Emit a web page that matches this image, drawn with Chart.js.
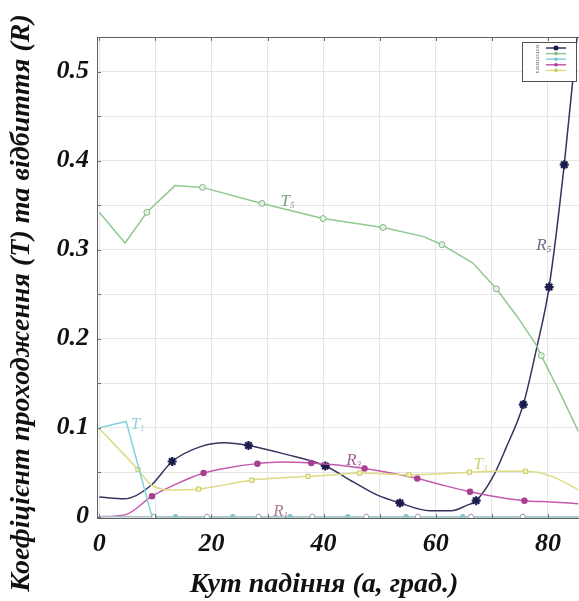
<!DOCTYPE html>
<html>
<head>
<meta charset="utf-8">
<script src="https://cdn.jsdelivr.net/npm/chart.js@4.4.1/dist/chart.umd.min.js"></script>
<style>
html,body{margin:0;padding:0;background:#fff;}
canvas{display:block;}
</style>
</head>
<body>
<canvas id="c" width="579" height="601"></canvas>
<script>
// ---- data ----
const t5X = [0, 4.6, 8.5, 13.5, 18.4, 29, 39.9, 50.6, 57.7, 61.1, 66.6, 70.8, 74.5, 77.9, 78.8, 82, 85.4];
const t5Y = [0.342, 0.3075, 0.342, 0.372, 0.370, 0.352, 0.335, 0.325, 0.315, 0.3056, 0.285, 0.256, 0.225, 0.193, 0.181, 0.141, 0.096];
const t5Marks = [0,0,1,0,1,1,1,1,0,1,0,1,0,0,1,0,0];

const r5X = [0, 4.5, 9.2, 13.0, 18.2, 22.3, 26.6, 33.3, 40.3, 45.3, 49.4, 53.6, 58.9, 62.8, 65.4, 67.2, 70.2, 72.5, 75.6, 78, 80.2, 82.9, 85.2];
const r5Y = [0.022, 0.020, 0.035, 0.062, 0.079, 0.083, 0.080, 0.070, 0.057, 0.039, 0.0247, 0.0154, 0.0067, 0.0067, 0.0124, 0.018, 0.045, 0.077, 0.126, 0.19, 0.258, 0.3955, 0.54];
const r5Marks = [0,0,0,1,0,0,1,0,1,0,0,1,0,0,0,1,0,0,1,0,1,1,0];

const r3X = [0, 4.6, 9.4, 13.5, 18.6, 23, 28.2, 32.2, 37.8, 42.5, 47.3, 52, 56.7, 61.5, 66.1, 71, 75.8, 80.5, 85.4];
const r3Y = [0.0, 0.002, 0.023, 0.036, 0.049, 0.055, 0.0596, 0.0614, 0.0603, 0.058, 0.054, 0.049, 0.043, 0.035, 0.028, 0.022, 0.018, 0.0165, 0.0146];
const r3Marks = [0,0,1,0,1,0,1,0,1,0,1,0,1,0,1,0,1,0,0];

const t3X = [0, 3.5, 6.9, 9.4, 13.5, 17.7, 22.5, 27.2, 32.2, 37.2, 41.8, 46.4, 51, 55.2, 60.5, 66, 70.7, 76, 80.8, 85.4];
const t3Y = [0.099, 0.076, 0.053, 0.035, 0.030, 0.031, 0.036, 0.041, 0.0435, 0.0453, 0.047, 0.049, 0.048, 0.047, 0.048, 0.050, 0.051, 0.051, 0.045, 0.030];
const t3Marks = [0,0,1,0,0,1,0,1,0,1,0,1,0,1,0,1,0,1,0,0];

const t1X = [0, 4.8, 9.4, 13.6, 23.8, 34, 44.3, 54.7, 64.8, 75.5, 85.4];
const t1Y = [0.100, 0.107, 0.0, 0.0, 0.0, 0.0, 0.0, 0.0, 0.0, 0.0, 0.0];
const t1Marks = [0,0,0,1,1,1,1,1,1,1,0];

const r1X = [0, 9.8, 19.2, 28.4, 38, 47.6, 56.8, 66.3, 75.5, 85.4];
const r1Y = [0.0, 0.0, 0.0, 0.0, 0.0, 0.0, 0.0, 0.0, 0.0, 0.0];
const r1Marks = [0,1,1,1,1,1,1,1,1,0];

const xTickLabels = ['0', '20', '40', '60', '80'];
const yTickLabels = ['0', '0.1', '0.2', '0.3', '0.4', '0.5'];

const curveNames = ['T', 'R', 'R', 'T', 'T', 'R'];
const curveSubs  = ['5', '5', '3', '3', '1', '1'];
const curveLabelX = [33.5, 79.2, 45.3, 67.9, 6.8, 32.3];
const curveLabelY = [0.356, 0.3065, 0.0651, 0.0606, 0.105, 0.008];

const legendNames = ['R5', 'T5', 'T1', 'R3', 'T3'];

const xTitle = 'Кут падіння (а, град.)';
const yTitle = 'Коефіцієнт проходження (T) та відбиття (R)';

// ---- helpers ----
const pts = (xs, ys) => xs.map((x, i) => ({x: x, y: ys[i]}));
const radii = (marks, r) => marks.map(m => m ? r : 0);

const C = {
  t5: '#8fc98f', r5: '#34345e', r3: '#c25aae', t3: '#dcdc86', t1: '#86d2dc', r1: '#a8c4c8'
};

const datasets = [
  {label:'R1', data: pts(r1X, r1Y), borderColor: C.r1, borderWidth: 1.5,
   pointRadius: radii(r1Marks, 2.5), pointStyle: 'circle', pointBackgroundColor: '#ffffff', pointBorderColor: '#9a9aa4', pointBorderWidth: 1, tension: 0},
  {label:'T1', data: pts(t1X, t1Y), borderColor: C.t1, borderWidth: 1.5,
   pointRadius: radii(t1Marks, 2), pointStyle: 'circle', pointBackgroundColor: '#78c4cc', pointBorderColor: '#78c4cc', tension: 0},
  {label:'T3', data: pts(t3X, t3Y), borderColor: C.t3, borderWidth: 1.5,
   pointRadius: radii(t3Marks, 3), pointStyle: 'rect', pointBackgroundColor: '#f4f4c0', pointBorderColor: '#c8c864', pointBorderWidth: 1, cubicInterpolationMode: 'monotone'},
  {label:'R3', data: pts(r3X, r3Y), borderColor: C.r3, borderWidth: 1.5,
   pointRadius: radii(r3Marks, 2.5), pointStyle: 'circle', pointBackgroundColor: '#a8408e', pointBorderColor: '#a8408e', cubicInterpolationMode: 'monotone'},
  {label:'T5', data: pts(t5X, t5Y), borderColor: C.t5, borderWidth: 1.5,
   pointRadius: radii(t5Marks, 3), pointStyle: 'circle', pointBackgroundColor: '#e2f2e2', pointBorderColor: '#86b886', pointBorderWidth: 1, tension: 0},
  {label:'R5', data: pts(r5X, r5Y), borderColor: C.r5, borderWidth: 1.5,
   pointRadius: radii(r5Marks, 4.5), pointStyle: 'star', pointBackgroundColor: '#1c1c4c', pointBorderColor: '#1c1c4c', pointBorderWidth: 2.2, cubicInterpolationMode: 'monotone'}
];

const decor = {
  id: 'decor',
  afterDraw(chart) {
    const ctx = chart.ctx, a = chart.chartArea, xs = chart.scales.x, ys = chart.scales.y;
    ctx.save();
    // top border
    ctx.strokeStyle = '#606060'; ctx.lineWidth = 1;
    ctx.beginPath(); ctx.moveTo(a.left, a.top + 0.5); ctx.lineTo(a.right, a.top + 0.5); ctx.stroke();
    // inner tick marks
    ctx.strokeStyle = '#707070';
    xs.ticks.forEach(t => {
      const px = Math.round(xs.getPixelForValue(t.value)) + 0.5;
      ctx.beginPath(); ctx.moveTo(px, a.bottom); ctx.lineTo(px, a.bottom - 4); ctx.stroke();
      ctx.beginPath(); ctx.moveTo(px, a.top); ctx.lineTo(px, a.top + 4); ctx.stroke();
    });
    ys.ticks.forEach(t => {
      const py = Math.round(ys.getPixelForValue(t.value)) + 0.5;
      ctx.beginPath(); ctx.moveTo(a.left, py); ctx.lineTo(a.left + 4, py); ctx.stroke();
    });
    // curve labels
    ctx.textBaseline = 'alphabetic';
    const lblColors = ['#7f9f7f', '#6a6a8c', '#a0609a', '#d2d272', '#92d0e0', '#b07890'];
    curveNames.forEach((n, i) => {
      const px = xs.getPixelForValue(curveLabelX[i]);
      const py = ys.getPixelForValue(curveLabelY[i]);
      ctx.fillStyle = lblColors[i];
      ctx.font = 'italic 17px "Liberation Serif", serif';
      const w = ctx.measureText(n).width;
      ctx.textAlign = 'left';
      ctx.fillText(n, px - w / 2 - 2, py + 6);
      ctx.font = 'italic 9px "Liberation Serif", serif';
      ctx.fillText(curveSubs[i], px + w / 2 - 2, py + 8);
    });
    // legend box
    const lx = 522, ly = 42, lw = 54, lh = 39;
    ctx.fillStyle = '#ffffff'; ctx.fillRect(lx, ly, lw, lh);
    ctx.strokeStyle = '#505050'; ctx.lineWidth = 1;
    ctx.strokeRect(lx + 0.5, ly + 0.5, lw, lh);
    const legColors = [C.r5, C.t5, C.t1, C.r3, C.t3];
    const legMark = ['#1c1c4c', '#86b886', '#78c4cc', '#a8408e', '#c8c864'];
    legendNames.forEach((n, i) => {
      const yy = ly + 6 + i * 5.6;
      ctx.strokeStyle = legColors[i]; ctx.lineWidth = 1.5;
      ctx.beginPath(); ctx.moveTo(lx + 24, yy); ctx.lineTo(lx + 44, yy); ctx.stroke();
      ctx.fillStyle = legMark[i];
      ctx.beginPath(); ctx.arc(lx + 34, yy, i === 0 ? 2.5 : 1.8, 0, Math.PI * 2); ctx.fill();
      ctx.save();
      ctx.translate(lx + 15, yy);
      ctx.rotate(Math.PI / 2);
      ctx.fillStyle = '#444';
      ctx.font = '5px "Liberation Serif", serif';
      ctx.textAlign = 'center'; ctx.textBaseline = 'middle';
      ctx.fillText(n, 0, 0);
      ctx.restore();
    });
    // axis titles
    ctx.fillStyle = '#111';
    ctx.font = 'bold italic 28px "Liberation Serif", serif';
    ctx.textAlign = 'center'; ctx.textBaseline = 'alphabetic';
    ctx.fillText(xTitle, 324, 592);
    ctx.save();
    ctx.translate(29, 303);
    ctx.rotate(-Math.PI / 2);
    ctx.fillText(yTitle, 0, 0);
    ctx.restore();
    ctx.restore();
  }
};

new Chart(document.getElementById('c'), {
  type: 'scatter',
  data: { datasets: datasets },
  options: {
    responsive: false,
    animation: false,
    showLine: true,
    layout: { padding: { top: 37, right: 0, left: 0, bottom: 0 } },
    plugins: { legend: { display: false }, tooltip: { enabled: false } },
    scales: {
      x: {
        type: 'linear', min: -0.4, max: 85.53,
        afterBuildTicks: s => { s.ticks = [0,10,20,30,40,50,60,70,80].map(v => ({value: v})); },
        afterFit: s => { s.height = 83; },
        grid: { color: '#e6e6e6', drawTicks: false },
        border: { color: '#606060', width: 1 },
        ticks: {
          padding: 11, color: '#111',
          font: { family: '"Liberation Serif", serif', size: 26, style: 'italic', weight: 'bold' },
          maxRotation: 0, autoSkip: false,
          callback: v => (v % 20 === 0 ? xTickLabels[v / 20] : '')
        }
      },
      y: {
        type: 'linear', min: -0.0015, max: 0.539,
        afterBuildTicks: s => { s.ticks = [0,0.05,0.1,0.15,0.2,0.25,0.3,0.35,0.4,0.45,0.5].map(v => ({value: v})); },
        afterFit: s => { s.width = 97; },
        grid: { color: '#e6e6e6', drawTicks: false },
        border: { color: '#606060', width: 1 },
        ticks: {
          padding: 8, color: '#111',
          font: { family: '"Liberation Serif", serif', size: 26, style: 'italic', weight: 'bold' },
          autoSkip: false,
          callback: v => {
            const k = Math.round(v * 10);
            return Math.abs(v * 10 - k) < 1e-6 ? yTickLabels[k] : '';
          }
        }
      }
    }
  },
  plugins: [decor]
});
</script>
</body>
</html>
